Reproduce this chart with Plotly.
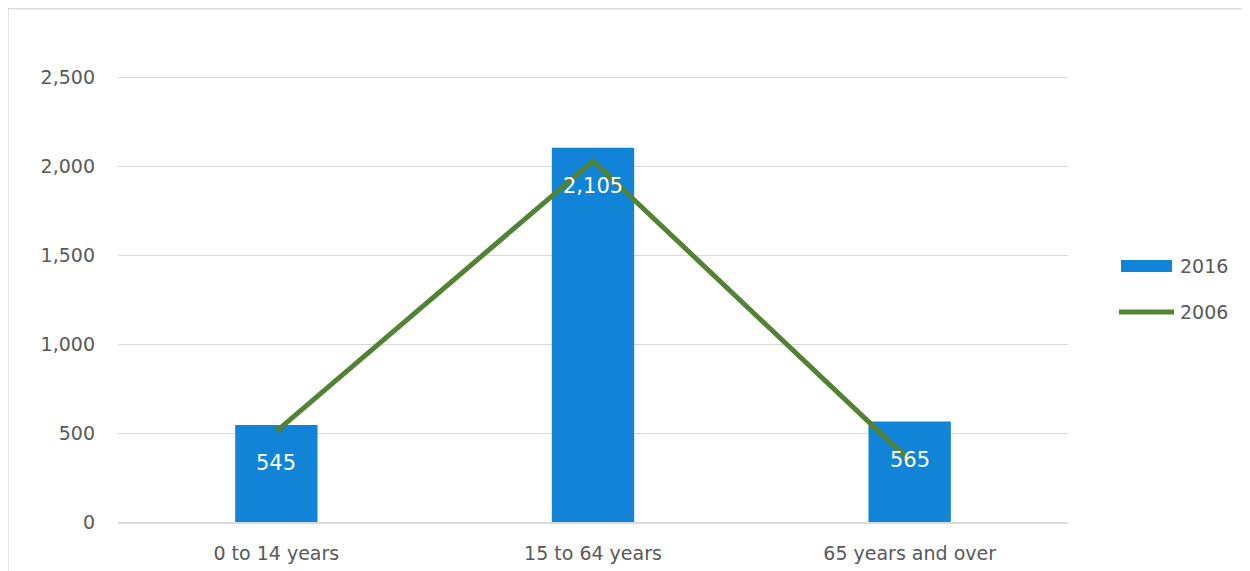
import plotly.graph_objects as go

categories = ["0 to 14 years", "15 to 64 years", "65 years and over"]
values_2016 = [545, 2105, 565]
values_2006 = [510, 2030, 345]
y_ticks = [0, 500, 1000, 1500, 2000, 2500]
y_tick_labels = ["0", "500", "1,000", "1,500", "2,000", "2,500"]
series_names = ["2016", "2006"]

FONT = "DejaVu Sans"
BAR_COLOR = "#1184D8"
LINE_COLOR = "#548235"
TEXT_COLOR = "#595959"

fig = go.Figure()
fig.add_trace(go.Bar(
    x=categories, y=values_2016, name=series_names[0],
    marker=dict(color=BAR_COLOR, line=dict(width=0)),
    width=0.26, showlegend=False,
))
fig.add_trace(go.Scatter(
    x=categories, y=values_2006, name=series_names[1], mode="lines",
    line=dict(color=LINE_COLOR, width=5), showlegend=False,
))

for c, v in zip(categories, values_2016):
    fig.add_annotation(
        x=c, y=v, text=f"{v:,}", showarrow=False,
        yanchor="top", yshift=-24,
        font=dict(family=FONT, size=21, color="white"),
    )

# outer frame
fig.add_shape(
    type="rect", xref="paper", yref="paper",
    x0=-0.1158, x1=1.1895, y0=-0.3, y1=1.05,
    line=dict(color="#D9D9D9", width=1.5), fillcolor="rgba(0,0,0,0)",
    layer="below",
)

# custom legend (Excel style)
fig.add_shape(type="rect", xref="paper", yref="paper",
              x0=1.0558, x1=1.1095, y0=0.5112, y1=0.5358,
              fillcolor=BAR_COLOR, line=dict(width=0))
fig.add_shape(type="line", xref="paper", yref="paper",
              x0=1.0537, x1=1.1116, y0=0.4294, y1=0.4294,
              line=dict(color=LINE_COLOR, width=5))
fig.add_annotation(xref="paper", yref="paper", x=1.1158, y=0.5235,
                   xanchor="left", yanchor="middle", showarrow=False,
                   text=series_names[0],
                   font=dict(family=FONT, size=19, color=TEXT_COLOR))
fig.add_annotation(xref="paper", yref="paper", x=1.1158, y=0.4294,
                   xanchor="left", yanchor="middle", showarrow=False,
                   text=series_names[1],
                   font=dict(family=FONT, size=19, color=TEXT_COLOR))

fig.update_layout(
    width=1250, height=571,
    margin=dict(l=110, r=190, t=25, b=57),
    paper_bgcolor="white", plot_bgcolor="white",
    font=dict(family=FONT, size=19, color=TEXT_COLOR),
    showlegend=False,
    xaxis=dict(
        showgrid=False, showline=True, linecolor="#D9D9D9", linewidth=2,
        ticks="", ticklabelstandoff=13,
        tickfont=dict(size=19, color=TEXT_COLOR),
    ),
    yaxis=dict(
        range=[0, 2750], tickvals=y_ticks, ticktext=y_tick_labels,
        showgrid=True, gridcolor="#D9D9D9", gridwidth=1.3,
        zeroline=False, showline=False, ticks="", ticklabelstandoff=22,
        tickfont=dict(size=19, color=TEXT_COLOR),
    ),
)

fig.write_html("out.html")
